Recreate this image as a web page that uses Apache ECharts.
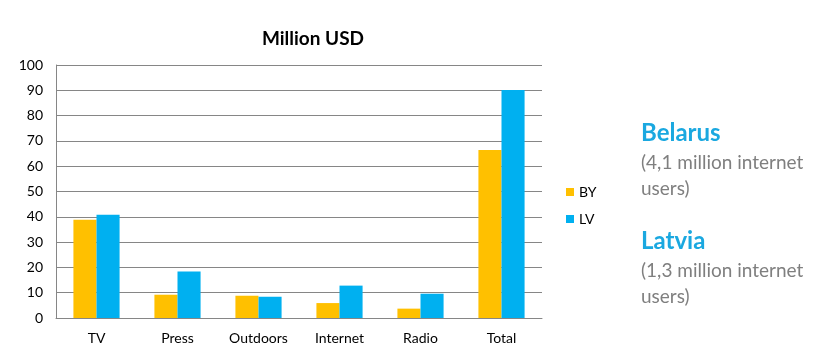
<!DOCTYPE html>
<html>
<head>
<meta charset="utf-8">
<script src="https://cdn.jsdelivr.net/npm/echarts@6/dist/echarts.min.js"></script>
<style>
    html, body { margin: 0; padding: 0; background: #fff; }
    #chart { width: 823px; height: 353px; }
</style>
</head>
<body>
<div id="chart"></div>
<script>
    // data
    var categories = ['TV', 'Press', 'Outdoors', 'Internet', 'Radio', 'Total'];
    var byValues = [38.8, 9.2, 8.8, 5.9, 3.7, 66.4];
    var lvValues = [40.8, 18.4, 8.4, 12.8, 9.6, 90.1];
    var seriesNames = ['BY', 'LV'];

    var font = 'Lato, "Open Sans", sans-serif';
    var myChart = echarts.init(document.getElementById('chart'));

    var option = {
        animation: false,
        title: {
            text: 'Million USD',
            left: 308,
            top: 24,
            textAlign: 'center',
            textStyle: { fontFamily: font, fontSize: 19, fontWeight: 'bold', color: '#000' }
        },
        legend: {
            data: seriesNames,
            orient: 'vertical',
            left: 561,
            top: 180,
            itemWidth: 8,
            itemHeight: 8,
            itemGap: 13,
            icon: 'rect',
            textStyle: { fontFamily: font, fontSize: 14, color: '#000' }
        },
        grid: { left: 56, right: 281, top: 65, bottom: 35 },
        xAxis: {
            type: 'category',
            data: categories,
            axisLine: { lineStyle: { color: '#868686' } },
            axisTick: { show: false },
            axisLabel: { fontFamily: font, fontSize: 14, color: '#000', margin: 13 }
        },
        yAxis: {
            type: 'value',
            min: 0,
            max: 100,
            interval: 10,
            axisLine: { show: true, lineStyle: { color: '#868686' } },
            axisTick: { show: false },
            splitLine: { lineStyle: { color: '#868686' } },
            axisLabel: { fontFamily: font, fontSize: 14, color: '#000', margin: 13 }
        },
        series: [
            {
                name: seriesNames[0],
                type: 'bar',
                data: byValues,
                barGap: '0%',
                barCategoryGap: '43%',
                itemStyle: { color: '#FFC000' }
            },
            {
                name: seriesNames[1],
                type: 'bar',
                data: lvValues,
                itemStyle: { color: '#00B0F0' }
            }
        ],
        graphic: [
            { type: 'text', left: 641, top: 121, style: { text: 'Belarus', fontFamily: font, fontSize: 24, fontWeight: 'bold', fill: '#1AA8E0' } },
            { type: 'text', left: 641, top: 153, style: { text: '(4,1 million internet', fontFamily: font, fontSize: 19, fill: '#7F7F7F' } },
            { type: 'text', left: 641, top: 179, style: { text: 'users)', fontFamily: font, fontSize: 19, fill: '#7F7F7F' } },
            { type: 'text', left: 641, top: 229, style: { text: 'Latvia', fontFamily: font, fontSize: 24, fontWeight: 'bold', fill: '#1AA8E0' } },
            { type: 'text', left: 641, top: 261, style: { text: '(1,3 million internet', fontFamily: font, fontSize: 19, fill: '#7F7F7F' } },
            { type: 'text', left: 641, top: 287, style: { text: 'users)', fontFamily: font, fontSize: 19, fill: '#7F7F7F' } }
        ]
    };

    myChart.setOption(option);
</script>
</body>
</html>
